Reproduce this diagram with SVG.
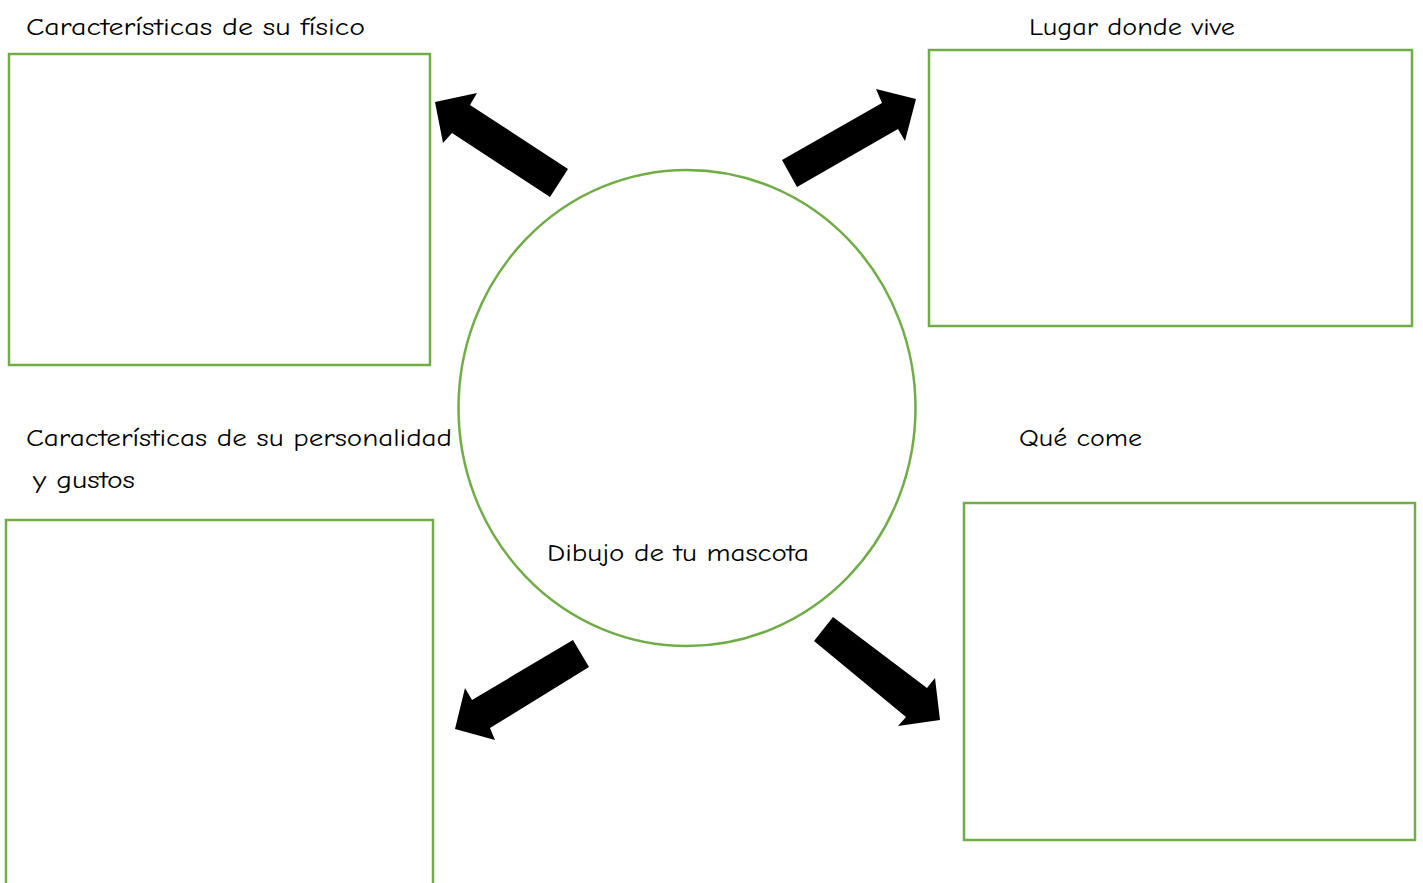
<svg xmlns="http://www.w3.org/2000/svg" width="1423" height="883" viewBox="0 0 1423 883">
<style>
.box{fill:none;stroke:#70AD47;stroke-width:2.5}
.lbl{font-family:"Comic Neue","Liberation Sans",sans-serif;font-size:24px;fill:#000}
.arr{fill:#000}
</style>
<rect width="1423" height="883" fill="#fff"/>
<g id="n-fisico">
<rect class="box" x="9" y="54" width="421" height="311"/>
<text class="lbl" x="26" y="35" textLength="339" lengthAdjust="spacingAndGlyphs">Características de su físico</text>
</g>
<g id="n-lugar">
<rect class="box" x="929" y="50" width="483" height="276"/>
<text class="lbl" x="1029" y="35" textLength="206" lengthAdjust="spacingAndGlyphs">Lugar donde vive</text>
</g>
<g id="n-personalidad">
<rect class="box" x="6" y="520" width="427" height="380"/>
<text class="lbl" x="26" y="446" textLength="426" lengthAdjust="spacingAndGlyphs">Características de su personalidad</text>
<text class="lbl" x="33" y="488" textLength="102" lengthAdjust="spacingAndGlyphs">y gustos</text>
</g>
<g id="n-come">
<rect class="box" x="964" y="503" width="451" height="337"/>
<text class="lbl" x="1019" y="446" textLength="123" lengthAdjust="spacingAndGlyphs">Qué come</text>
</g>
<g id="n-mascota">
<ellipse class="box" cx="687" cy="408" rx="228.5" ry="238"/>
<text class="lbl" x="547" y="561" textLength="262" lengthAdjust="spacingAndGlyphs">Dibujo de tu mascota</text>
</g>
<g id="connectors">
<polygon class="arr" points="435,102 477,93 470,105 568,169 550,197 452,133 443,143"/>
<polygon class="arr" points="916,99 876,89 882,103 782,160 797,187 898,129 905,141"/>
<polygon class="arr" points="573,640 589,667 490,728 495,740 455,729 465,688 472,700"/>
<polygon class="arr" points="833,617 814,641 906,717 898,726 940,720 935,678 927,688"/>
</g>
</svg>
